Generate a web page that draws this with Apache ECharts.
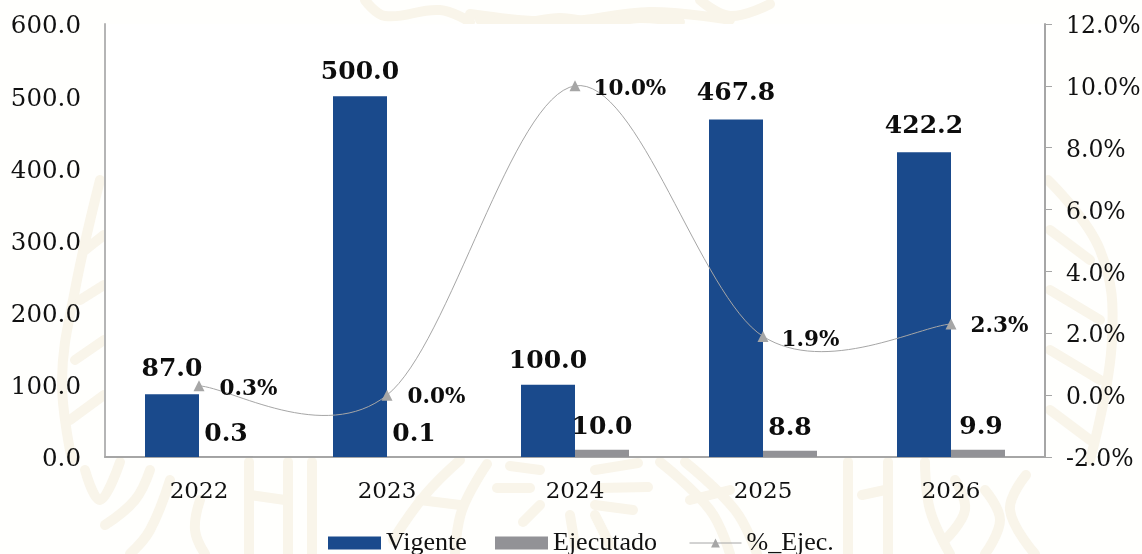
<!DOCTYPE html>
<html><head><meta charset="utf-8">
<style>html,body{margin:0;padding:0;background:#fffffd}#c{width:1142px;height:554px}</style>
<script src="https://cdn.jsdelivr.net/npm/echarts@6/dist/echarts.min.js"></script>
</head><body><div id="c"></div>
<script>
const categories = ['2022','2023','2024','2025','2026'];
const vigente = [87.0,500.0,100.0,467.8,422.2];
const ejecutado = [0.3,0.1,10.0,8.8,9.9];
const pctEjec = [0.3,0.0,10.0,1.9,2.3];
const serif = '"DejaVu Serif", serif';
const vigOffset = [[0,-7],[0,-6],[0,-6],[0,-8],[0,-8]];
const ejeOffset = [[0,-5],[0,-5],[0,-5],[0,-5],[3,-5]];
const pctOffset = [[10,4],[10,2],[8,4],[8,4],[9,2]];
const lbl = {fontFamily:serif,fontWeight:'bold',fontSize:25,color:'#0d0d0d'};
const wm = '#f9f5ea';
const wmLines = [
 [[365,0],[385,16],[440,10],[470,22]],[[470,14],[560,22],[650,12],[730,20]],[[700,0],[730,16],[770,4]],
 [[480,20],[520,23],[560,18],[600,23],[640,18],[680,22]],
 [[72,460],[62,380],[75,290],[100,180]],[[70,420],[104,395]],[[75,360],[104,340]],[[80,300],[104,285]],[[85,250],[104,235]],
 [[1048,180],[1100,250],[1112,340],[1090,460]],[[1050,230],[1090,260]],[[1050,290],[1100,320]],[[1050,350],[1100,380]],[[1050,410],[1090,440]],
 [[393,540],[425,495],[460,460]],[[455,554],[462,510],[487,464]],
 [[660,462],[710,510],[730,554]],[[685,462],[735,510],[757,554]],[[420,500],[460,505]],[[690,500],[730,490]],
 [[600,488],[648,487]],[[530,488],[497,488]],[[595,470],[638,463]],[[540,470],[510,466]],[[595,505],[633,510]],[[540,505],[523,522]],
 [[570,515],[575,545]],[[595,515],[610,545]],
 [[85,470],[100,500],[120,462]],[[150,470],[135,500],[105,525]],[[170,480],[150,530],[130,554]],[[200,500],[195,530],[205,554]],
 [[249,462],[249,554]],[[288,462],[288,554]],[[312,462],[312,554]],[[250,495],[285,500]],
 [[848,462],[848,554]],[[888,462],[888,554]],[[862,495],[885,490]],[[925,462],[930,510],[950,554]],
 [[955,480],[965,510],[945,540]],[[985,490],[1000,520],[985,554]],[[1026,475],[1010,510],[1035,554]]
];
const chart = echarts.init(document.getElementById('c'),null,{renderer:'canvas'});
const legendText = {fontFamily:'"Liberation Serif", serif',fontSize:26,color:'#111'};
chart.setOption({
 animation:false,
 backgroundColor:'#fffffd',
 graphic:wmLines.map(pts=>({type:'polyline',z:-5,silent:true,shape:{points:pts,smooth:0.4},style:{fill:'none',stroke:wm,lineWidth:10,lineCap:'round'}})),
 grid:{left:105,right:97,top:24,bottom:97,show:true,backgroundColor:'#ffffff',borderWidth:0,outerBoundsMode:'none'},
 legend:[
  {left:328,top:530,itemGap:3,itemWidth:53,itemHeight:13,data:[{name:'Vigente',icon:'rect'}],textStyle:legendText,padding:0},
  {left:495,top:530,itemGap:4,itemWidth:53,itemHeight:13,data:[{name:'Ejecutado',icon:'rect'}],textStyle:legendText,padding:0},
  {left:689,top:530,itemGap:6,itemWidth:52,itemHeight:11,data:[{name:'%_Ejec.',lineStyle:{width:1,color:'#a6a6a6',opacity:1}}],textStyle:legendText,padding:0}
 ],
 xAxis:{type:'category',data:categories,axisTick:{show:false},
  axisLine:{lineStyle:{color:'#a6a6a6',width:2}},
  axisLabel:{fontFamily:serif,fontSize:23,color:'#111',margin:24}},
 yAxis:[
  {type:'value',min:0,max:600,interval:100,splitLine:{show:false},axisTick:{show:false},
   axisLine:{show:true,lineStyle:{color:'#b5b5b5',width:2}},
   axisLabel:{fontFamily:serif,fontSize:24.5,color:'#111',margin:24,verticalAlign:'top',lineHeight:6,formatter:v=>v.toFixed(1)}},
  {type:'value',min:-2,max:12,interval:2,position:'right',splitLine:{show:false},
   axisTick:{show:true,length:7,lineStyle:{color:'#a6a6a6',width:1}},
   axisLine:{show:true,lineStyle:{color:'#a6a6a6',width:2}},
   axisLabel:{fontFamily:serif,fontSize:23.5,color:'#111',margin:21,verticalAlign:'top',lineHeight:6,formatter:v=>v.toFixed(1)+'%'}}
 ],
 series:[
  {name:'Vigente',type:'bar',barWidth:54,barGap:'0%',yAxisIndex:0,itemStyle:{color:'#1a4a8c'},
   data:vigente.map((v,i)=>({value:v,label:{offset:vigOffset[i]}})),
   label:{show:true,position:'top',...lbl,formatter:p=>p.value.toFixed(1)}},
  {name:'Ejecutado',type:'bar',barWidth:54,barGap:'0%',yAxisIndex:0,itemStyle:{color:'#929296'},
   data:ejecutado.map((v,i)=>({value:v,label:{offset:ejeOffset[i]}})),
   label:{show:true,position:'top',...lbl,formatter:p=>p.value.toFixed(1)}},
  {type:'custom',yAxisIndex:1,coordinateSystem:'cartesian2d',z:3,silent:true,clip:false,
   data:pctEjec.map((v,i)=>[i,v]),
   renderItem:(params,api)=>{
    const i=params.dataIndex;
    if(i>=pctEjec.length-1) return null;
    const P=k=>{const j=Math.max(0,Math.min(pctEjec.length-1,k));return api.coord([j,pctEjec[j]]);};
    const p0=P(i-1),p1=P(i),p2=P(i+1),p3=P(i+2);
    return {type:'bezierCurve',shape:{x1:p1[0],y1:p1[1],x2:p2[0],y2:p2[1],
      cpx1:p1[0]+(p2[0]-p0[0])/6,cpy1:p1[1]+(p2[1]-p0[1])/6,
      cpx2:p2[0]-(p3[0]-p1[0])/6,cpy2:p2[1]-(p3[1]-p1[1])/6},
      style:{fill:'none',stroke:'#a6a6a6',lineWidth:1}};
   }},
  {name:'%_Ejec.',type:'line',yAxisIndex:1,z:4,symbol:'triangle',symbolSize:11,showAllSymbol:true,
   lineStyle:{width:0,color:'#a6a6a6'},itemStyle:{color:'#a6a6a6'},
   data:pctEjec.map((v,i)=>({value:v,label:{offset:pctOffset[i]}})),
   label:{show:true,position:'right',...lbl,fontSize:21.5,formatter:p=>p.value.toFixed(1)+'%'}}
 ]
});
</script></body></html>
